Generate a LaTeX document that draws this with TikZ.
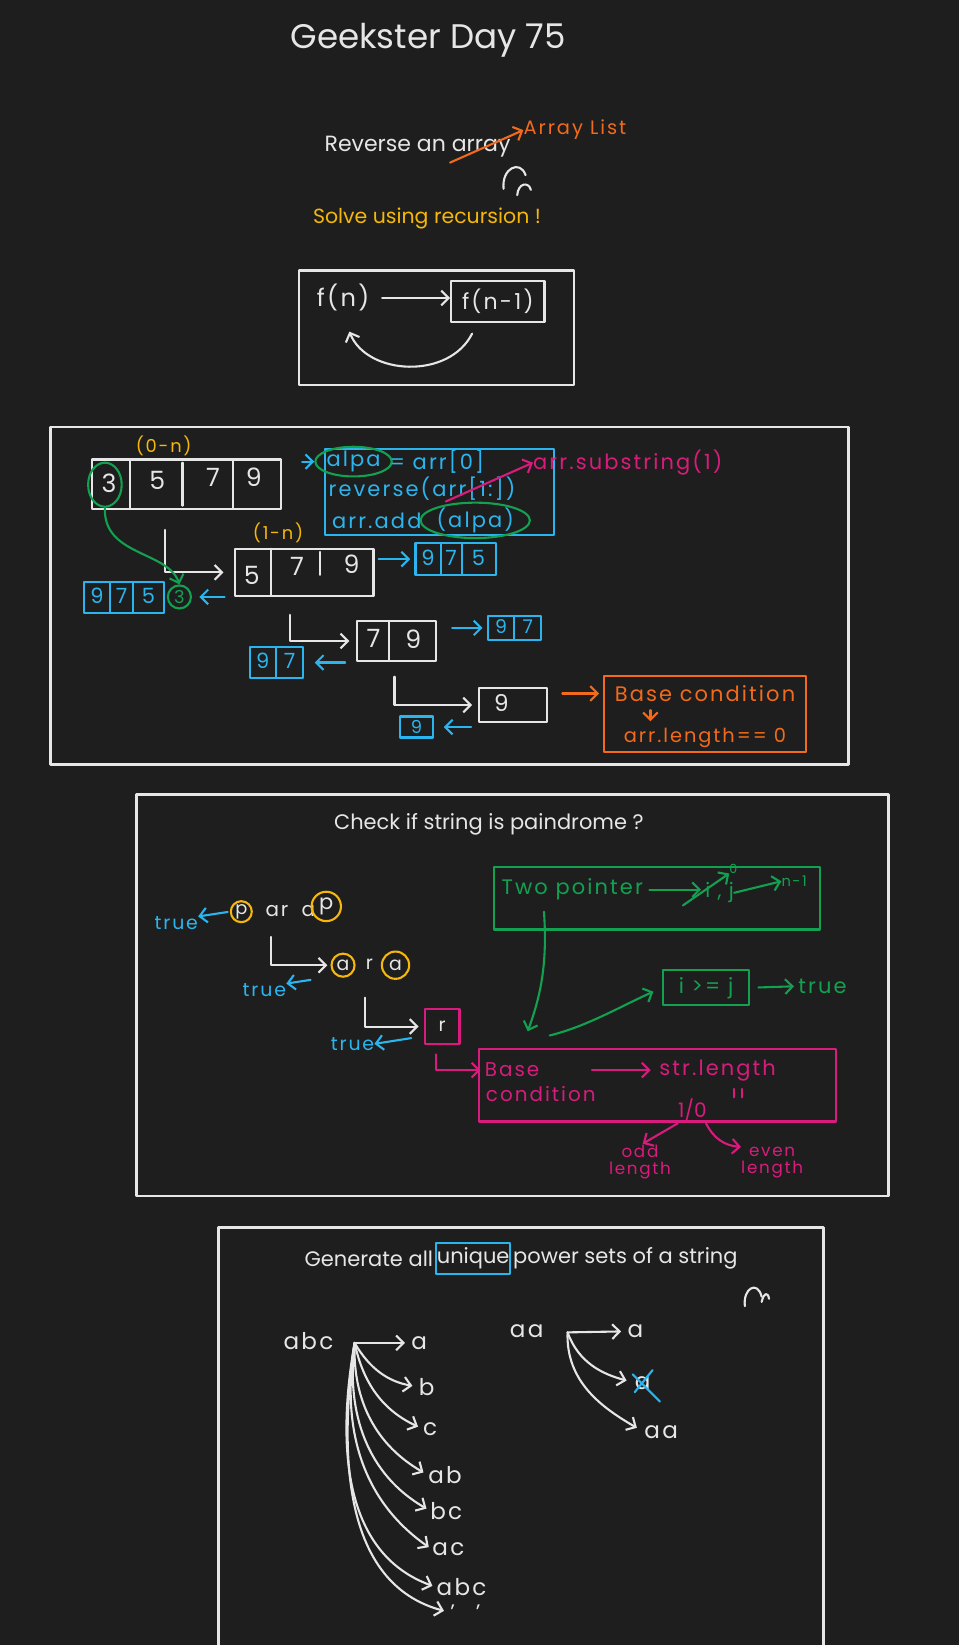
\documentclass[tikz,border=0pt]{standalone}
\usepackage{fontspec}
\setmainfont{Poppins}
\newfontfamily\scrawl{Poppins}[LetterSpace=10]
\usetikzlibrary{arrows.meta,positioning,shapes.geometric}
\definecolor{board}{HTML}{1E1E1E}
\definecolor{chalk}{HTML}{E6E6E6}
\definecolor{ylw}{HTML}{F5B70A}
\definecolor{orng}{HTML}{F26A1B}
\definecolor{cyn}{HTML}{2BB5EE}
\definecolor{grn}{HTML}{12A150}
\definecolor{pnk}{HTML}{D81B7C}

\tikzset{
  outer/.style={draw=chalk, line width=2.6pt},
  cell/.style={draw=chalk, line width=2pt, inner sep=0pt},
  bcell/.style={draw=cyn, line width=2pt, inner sep=0pt},
  gring/.style={ellipse, draw=grn, line width=2pt, inner sep=-5pt},
  ycirc/.style={circle, draw=ylw, line width=2pt, inner sep=-2pt},
  tx/.style={font=\fontsize{#1}{#1}\selectfont},
  hw/.style={font={\scrawl\fontsize{#1}{#1}\selectfont}},
  wtxt/.style={text=chalk, inner sep=0pt},
  ytxt/.style={text=ylw, inner sep=0pt},
  otxt/.style={text=orng, inner sep=0pt},
  btxt/.style={text=cyn, inner sep=0pt},
  gtxt/.style={text=grn, inner sep=0pt},
  ptxt/.style={text=pnk, inner sep=0pt},
  wline/.style={draw=chalk, line width=2pt},
  bline/.style={draw=cyn, line width=2pt},
  gline/.style={draw=grn, line width=2pt},
  oline/.style={draw=orng, line width=2pt},
  pline/.style={draw=pnk, line width=2pt},
  arw/.style={-{Straight Barb[length=7pt,width=14pt]}},
}

\begin{document}
\begin{tikzpicture}[x=1pt, y=-1pt, line cap=round, line join=round]
  \fill[board] (0,0) rectangle (914,1568);
  \useasboundingbox (0,0) rectangle (914,1568);

  % heading
  \node[wtxt, tx=32.5] (title) at (408,38) {Geekster Day 75};
  \node[wtxt, tx=21] (rev) at (398,140) {Reverse an array};
  \node[otxt, hw=18.5] (alist) at (548,124) {Array List};
  \coordinate (strike) at (429,155);
  \draw[oline, arw] (strike) -- (alist.west);
  \draw[wline] (480,180) .. controls (478,160) and (496,152) .. (501,167);
  \draw[wline] (493,186) .. controls (494,174) and (504,173) .. (506,181);
  \node[ytxt, tx=19.5] (solve) at (407,208) {Solve using recursion !};

  % f(n) box
  \draw[outer] (285,258) rectangle (547,367);
  \node[cell, wtxt, hw=21, minimum width=89, minimum height=39] (fn1) at (474.5,287.5) {f(n-1)};
  \node[wtxt, hw=23] (fn) at (327,284) {f(n)};
  \draw[wline, arw, shorten <=12pt] (fn.east) -- (fn1.west |- fn.east);
  \coordinate (back) at (450,318);
  \draw[wline, arw] (back) .. controls (428,362) and (350,358) .. ([xshift=6pt,yshift=-19pt]fn.south);

  % reverse by recursion
  \draw[outer] (48,407) rectangle (809,729);
  \node[ytxt, hw=17] (rng0) at (156,425) {(0-n)};
  \node[cell, minimum width=180, minimum height=47] (arrA) at (178,461.5) {};
  \draw[wline] (124,438) -- (124,485) (174,441) -- (174,482) (222,438) -- (222,485);
  \node[wtxt, tx=24] (a1) at (104,461) {3};
  \node[wtxt, tx=24] (a2) at (150,458) {5};
  \node[wtxt, tx=24] (a3) at (203,455) {7};
  \node[wtxt, tx=24] (a4) at (242,455) {9};
  \node[gring, minimum width=32, minimum height=42] (hold) at (100,462) {};

  \node[bcell, minimum width=218, minimum height=82] (code) at (419,469) {};
  \node[gring, btxt, hw=20, minimum width=60, minimum height=28] (alpa1) at (337,440) {alpa};
  \node[btxt, hw=20, right=-3pt of alpa1] (ln1) {= arr[0]};
  \node[btxt, hw=20, anchor=west] (ln2) at (313,466) {reverse(arr[1:])};
  \node[gring, btxt, hw=20, minimum width=76, minimum height=30] (alpa2) at (453,496) {(alpa)};
  \node[btxt, hw=20, left=-2pt of alpa2] (ln3) {arr.add};
  \draw[bline, arw] (arrA.east |- alpa1.west) ++(19,0) -- (alpa1.west);
  \node[ptxt, hw=20, anchor=west] (subs) at (508,441) {arr.substring(1)};
  \coordinate (pk) at (425,478);
  \draw[pline, arw] (pk) -- (subs.west);

  \node[ytxt, hw=17] (rng1) at (265,508) {(1-n)};
  \coordinate (t1) at (157,505);
  \node[cell, minimum width=132, minimum height=45] (arrB) at (290,545.5) {};
  \draw[wline] (258,523) -- (258,568) (305,526) -- (305,548);
  \node[wtxt, tx=24] (b1) at (240,548) {5};
  \node[wtxt, tx=24] (b2) at (283,540) {7};
  \node[wtxt, tx=24] (b3) at (335,538) {9};
  \draw[wline, arw, shorten >=10pt] (t1) |- (arrB.west);

  \node[bcell, minimum width=77, minimum height=30] (resB) at (434.5,533) {};
  \draw[bline] (420,518) -- (420,548) (440,518) -- (440,548);
  \node[btxt, tx=20] (rb1) at (408,532) {9};
  \node[btxt, tx=20] (rb2) at (430,532) {7};
  \node[btxt, tx=20] (rb3) at (456,532) {5};
  \draw[bline, arw, shorten <=4pt, shorten >=4pt] (arrB.east |- resB.west) -- (resB.west);

  \node[gring, circle, gtxt, tx=17, minimum size=22] (hold2) at (171,569) {3};
  \draw[gline, arw] (hold.south) .. controls (98,530) and (160,525) .. (hold2.north);
  \node[bcell, minimum width=76, minimum height=29] (resA) at (118,569.5) {};
  \draw[bline] (105,555) -- (105,584) (127,555) -- (127,584);
  \node[btxt, tx=20] (ra1) at (92.5,568) {9};
  \node[btxt, tx=20] (ra2) at (116,568) {7};
  \node[btxt, tx=20] (ra3) at (141.5,568) {5};
  \draw[bline, arw, shorten <=9pt, shorten >=7pt] (arrB.west |- hold2.east) -- (hold2.east);

  \coordinate (t2) at (276,586);
  \node[cell, minimum width=76, minimum height=38] (arrC) at (378,611) {};
  \draw[wline] (371,592) -- (371,630);
  \node[wtxt, tx=24] (c1) at (356,609) {7};
  \node[wtxt, tx=24] (c2) at (394,609) {9};
  \draw[wline, arw, shorten >=6pt] (t2) |- (arrC.west);

  \node[bcell, minimum width=51, minimum height=23] (resC) at (490.5,598.5) {};
  \draw[bline] (490,587) -- (490,610);
  \node[btxt, tx=18] (rc1) at (477.5,597) {9};
  \node[btxt, tx=18] (rc2) at (503,597) {7};
  \draw[bline, arw, shorten <=14pt, shorten >=4pt] (arrC.east |- resC.west) -- (resC.west);

  \node[bcell, minimum width=51, minimum height=29] (resD) at (263.5,631.5) {};
  \draw[bline] (263,617) -- (263,646);
  \node[btxt, tx=20] (rd1) at (250.5,630) {9};
  \node[btxt, tx=20] (rd2) at (276,630) {7};
  \draw[bline, arw, shorten <=10pt, shorten >=10pt] (arrC.west |- resD.east) -- (resD.east);

  \coordinate (t3) at (376,645);
  \node[cell, minimum width=64, minimum height=32] (arrD) at (489,672) {};
  \node[wtxt, tx=22] (d1) at (478,670) {9};
  \draw[wline, arw, shorten >=6pt] (t3) |- (arrD.west);

  \node[bcell, btxt, tx=17, minimum width=32, minimum height=20] (resE) at (397,693) {9};
  \draw[bline, arw, shorten <=7pt, shorten >=9pt] (arrD.west |- resE.east) -- (resE.east);

  \node[cell, draw=orng, minimum width=192, minimum height=73] (obox) at (672,680.5) {};
  \node[otxt, hw=20] (bc1) at (672,661) {Base condition};
  \node[otxt, hw=18.5] (bc2) at (672,703) {arr.length== 0};
  \draw[oline, arw] ([xshift=-52pt,yshift=-8pt]bc1.south) -- ([xshift=-52pt,yshift=6pt]bc2.north);
  \draw[oline, arw, shorten >=4pt] (arrD.east |- bc1) ++(14,0) -- (obox.west |- bc1);

  % palindrome
  \draw[outer] (130,757) rectangle (847,1140);
  \node[wtxt, tx=20] (pal) at (466,786) {Check if string is paindrome ?};

  \node[ycirc, wtxt, tx=17, minimum size=20] (p1) at (230,869) {p};
  \node[wtxt, hw=19] (ar1) at (264,868) {ar};
  \node[wtxt, tx=19] (a5) at (294,868) {a};
  \node[ycirc, wtxt, tx=20, minimum size=28] (p2) at (311,864) {p};
  \node[btxt, hw=18] (tr1) at (168,880) {true};
  \draw[bline, arw, shorten <=2pt] (p1.west) -- (tr1.north east);

  \coordinate (t4) at (258,893);
  \node[ycirc, wtxt, tx=18, minimum size=22] (q1) at (327,920) {a};
  \node[wtxt, tx=18] (r1) at (352,919) {r};
  \node[ycirc, wtxt, tx=18, minimum size=26] (q2) at (377,920) {a};
  \draw[wline, arw, shorten >=3pt] (t4) |- (q1.west);
  \node[btxt, hw=18] (tr2) at (252,944) {true};
  \draw[bline, arw] ([xshift=-19pt,yshift=-14pt]q1.west) -- (tr2.north east);

  \coordinate (t5) at (348,951);
  \node[cell, draw=pnk, wtxt, tx=18, minimum size=33] (rbox) at (421.5,978.5) {r};
  \draw[wline, arw, shorten >=5pt] (t5) |- (rbox.west);
  \node[btxt, hw=18] (tr3) at (336,995) {true};
  \draw[bline, arw] ([xshift=-12pt,yshift=-11pt]rbox.west) -- (tr3.east);

  \node[cell, draw=pnk, minimum width=340, minimum height=69] (pbox) at (627,1034.5) {};
  \node[ptxt, hw=19, anchor=west] (pb1) at (462,1020) {Base};
  \node[ptxt, hw=19, anchor=west] (pb2) at (463,1043) {condition};
  \coordinate (t6) at (416,1005);
  \draw[pline, arw, shorten >=4pt] (t6) |- (pb1.west);
  \node[ptxt, hw=20] (slen) at (684,1020) {str.length};
  \draw[pline, arw, shorten >=8pt] (pb1.east) ++(50,0) -- (slen.west);
  \draw[pline] (700,1038) -- (700,1046) (707,1038) -- (707,1046);
  \node[ptxt, tx=19] (onezero) at (660,1058) {1/0};
  \node[ptxt, hw=16, align=center] (odd) at (610,1108) {odd\\length};
  \node[ptxt, hw=16, align=center] (even) at (736,1108) {even\\length};
  \draw[pline, arw, shorten >=3pt] ([xshift=-14pt,yshift=-2pt]onezero.south) -- (odd.north);
  \draw[pline, arw] ([xshift=13pt,yshift=-2pt]onezero.south) to[bend right=30] (even.north west);

  \node[cell, draw=grn, minimum width=311, minimum height=60] (gbox) at (626.5,856) {};
  \node[gtxt, hw=20, anchor=west] (tp) at (478,848) {Two pointer};
  \node[gtxt, hw=19] (ij) at (686,851) {i , j};
  \node[gtxt, tx=12] (zero) at (699,828) {0};
  \node[gtxt, hw=14] (nm1) at (757,840) {n-1};
  \draw[gline, arw, shorten <=6pt, shorten >=4pt] (tp.east) -- (ij.west |- tp.east);
  \coordinate (s1) at (651,863);
  \draw[gline, arw] (s1) -- (zero.south west);
  \draw[gline, arw] (ij.east) -- (nm1.west);

  \node[cell, draw=grn, gtxt, hw=20, minimum width=82, minimum height=33] (ge) at (673,941.5) {i >= j};
  \node[gtxt, hw=20] (tr4) at (784,940) {true};
  \draw[gline, arw, shorten <=8pt, shorten >=4pt] (ge.east) -- (tr4.west);
  \draw[gline, arw] ([xshift=-108pt,yshift=-13pt]gbox.center) .. controls (522,920) and (515,950) .. ([xshift=-124pt,yshift=16pt]pbox.north);
  \draw[gline, arw, shorten >=9pt] ([xshift=-103pt,yshift=12pt]pbox.north) .. controls (560,978) and (590,960) .. (ge.west);

  % power sets
  \draw[outer] (208,1568) -- (208,1170) -- (785,1170) -- (785,1568);
  \node[bcell, wtxt, tx=20, minimum width=70, minimum height=29] (uq) at (451,1199.5) {unique};
  \node[wtxt, tx=20, left=2pt of uq] (gen1) {Generate all};
  \node[wtxt, tx=20, right=2pt of uq] (gen2) {power sets of a string};
  \draw[wline] (710,1245) .. controls (708,1228) and (722,1220) .. (726,1236);
  \draw[wline] (726,1241) .. controls (728,1232) and (732,1231) .. (733,1238);

  \node[wtxt, hw=22] (abc) at (294,1278) {abc};
  \coordinate (hubA) at (338,1280);
  \node[wtxt, hw=22, anchor=west] (sa) at (392,1280) {a};
  \node[wtxt, hw=22, anchor=west] (sb) at (399,1322) {b};
  \node[wtxt, hw=22, anchor=west] (sc) at (403,1362) {c};
  \node[wtxt, hw=22, anchor=west] (sab) at (408,1406) {ab};
  \node[wtxt, hw=22, anchor=west] (sbc) at (410,1440) {bc};
  \node[wtxt, hw=22, anchor=west] (sac) at (412,1477) {ac};
  \node[wtxt, hw=22, anchor=west] (sabc) at (416,1513) {abc};
  \node[wtxt, tx=20, anchor=west] (semp) at (429,1537) {'\quad'};
  \draw[wline, arw, shorten >=6pt] (hubA) -- (sa.west);
  \draw[wline, arw, shorten >=6pt] (hubA) to[out=-60, in=170] (sb.west);
  \draw[wline, arw, shorten >=5pt] (hubA) to[out=-78, in=155] (sc.west);
  \draw[wline, arw, shorten >=5pt] (hubA) to[out=-92, in=150] (sab.west);
  \draw[wline, arw, shorten >=4pt] (hubA) to[out=-97, in=150] (sbc.west);
  \draw[wline, arw, shorten >=4pt] (hubA) to[out=-99, in=145] (sac.west);
  \draw[wline, arw, shorten >=4pt] (hubA) to[out=-100, in=160] (sabc.west);
  \draw[wline, arw, shorten >=6pt] (hubA) to[out=-98, in=165] (semp.west);

  \node[wtxt, hw=22] (aa) at (502,1269) {aa};
  \coordinate (hubB) at (541,1270);
  \node[wtxt, hw=22, anchor=west] (ta1) at (598,1269) {a};
  \node[wtxt, hw=22, anchor=west] (ta2) at (605,1318) {a};
  \node[wtxt, hw=22, anchor=west] (ta3) at (614,1365) {aa};
  \draw[wline, arw, shorten >=6pt] (hubB) -- (ta1.west);
  \draw[wline, arw, shorten >=8pt] (hubB) to[out=-70, in=165] (ta2.west);
  \draw[wline, arw, shorten >=8pt] (hubB) to[out=-92, in=150] (ta3.west);
  \draw[bline] (605,1327) -- (622,1306) (603,1310) -- (629,1336);
\end{tikzpicture}
\end{document}
